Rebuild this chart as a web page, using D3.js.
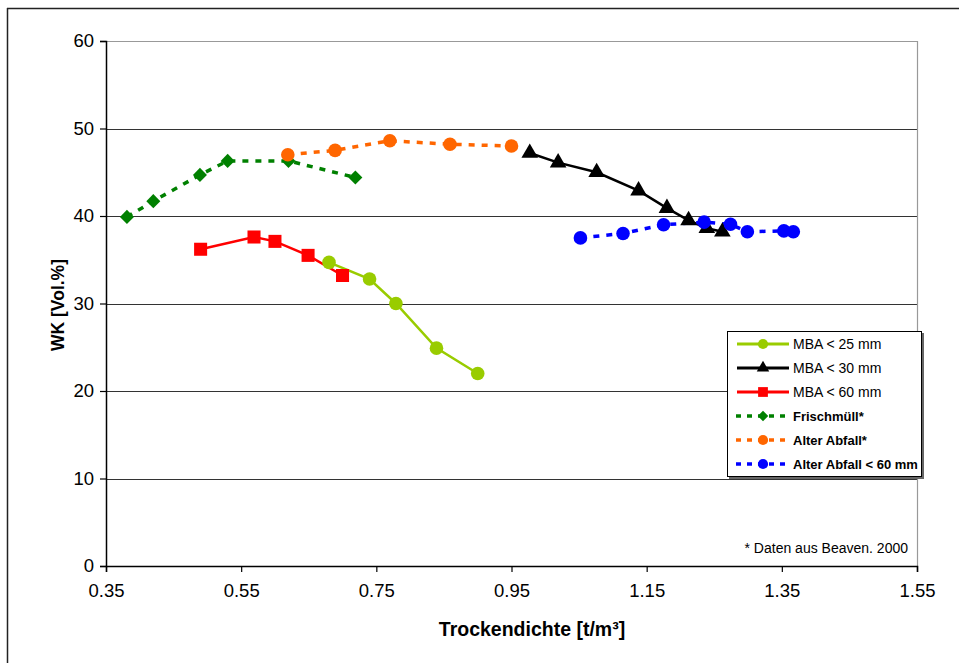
<!DOCTYPE html>
<html><head><meta charset="utf-8">
<script src="https://cdn.jsdelivr.net/npm/d3@7"></script>
<style>body{margin:0;background:#fff;}svg{display:block;font-family:"Liberation Sans",Arial,sans-serif;}</style>
</head><body>
<svg id="chart" width="959" height="663"></svg>
<script>
// ---- data ----
const xTicks = [0.35, 0.55, 0.75, 0.95, 1.15, 1.35, 1.55];
const yTicks = [0, 10, 20, 30, 40, 50, 60];
const seriesNames = ["MBA < 25 mm", "MBA < 30 mm", "MBA < 60 mm", "Frischmüll*", "Alter Abfall*", "Alter Abfall < 60 mm"];
const mba25X = [0.680, 0.740, 0.779, 0.839, 0.900];
const mba25Y = [34.7, 32.8, 30.0, 24.9, 22.0];
const mba30X = [0.977, 1.019, 1.076, 1.138, 1.180, 1.212, 1.239, 1.262];
const mba30Y = [47.2, 46.1, 45.0, 42.9, 40.9, 39.5, 38.6, 38.2];
const mba60X = [0.490, 0.569, 0.600, 0.649, 0.700];
const mba60Y = [36.2, 37.6, 37.1, 35.5, 33.2];
const frischX = [0.381, 0.420, 0.489, 0.530, 0.620, 0.719];
const frischY = [39.9, 41.7, 44.7, 46.3, 46.3, 44.4];
const altX = [0.619, 0.689, 0.770, 0.859, 0.950];
const altY = [47.0, 47.5, 48.6, 48.2, 48.0];
const alt60X = [1.052, 1.115, 1.175, 1.235, 1.274, 1.299, 1.353, 1.367];
const alt60Y = [37.5, 38.0, 39.0, 39.3, 39.05, 38.2, 38.3, 38.2];
const footnote = "* Daten aus Beaven. 2000";
const xTitle = "Trockendichte [t/m³]";
const yTitle = "WK [Vol.%]";

const series = [
  {name: seriesNames[0], xs: mba25X, ys: mba25Y, color: "#99cc00", dash: null, marker: "circle", bold: false},
  {name: seriesNames[1], xs: mba30X, ys: mba30Y, color: "#000000", dash: null, marker: "triangle", bold: false},
  {name: seriesNames[2], xs: mba60X, ys: mba60Y, color: "#ff0000", dash: null, marker: "square", bold: false},
  {name: seriesNames[3], xs: frischX, ys: frischY, color: "#008000", dash: "6,7", marker: "diamond", bold: true},
  {name: seriesNames[4], xs: altX, ys: altY, color: "#ff6600", dash: "6,7", marker: "circle", bold: true},
  {name: seriesNames[5], xs: alt60X, ys: alt60Y, color: "#0000ff", dash: "6,7", marker: "circle", bold: true}
];

const svg = d3.select("#chart");
const L = 106, R = 917, T = 41, B = 566;
const x = d3.scaleLinear().domain([0.35, 1.55]).range([L, R]);
const y = d3.scaleLinear().domain([0, 60]).range([B, T]);

// outer frame
svg.append("line").attr("x1", 7).attr("x2", 959).attr("y1", 8.5).attr("y2", 8.5).attr("stroke", "#222").attr("stroke-width", 1.5);
svg.append("line").attr("x1", 7.5).attr("x2", 7.5).attr("y1", 8).attr("y2", 663).attr("stroke", "#222").attr("stroke-width", 1.5);

// gridlines
svg.append("g").selectAll("line").data(yTicks.filter(d => d > 0 && d < 60)).join("line")
  .attr("x1", L).attr("x2", R).attr("y1", d => Math.round(y(d)) + 0.5).attr("y2", d => Math.round(y(d)) + 0.5)
  .attr("stroke", "#333").attr("stroke-width", 1.2);
// plot border top / right
svg.append("line").attr("x1", L).attr("x2", R).attr("y1", T + 0.5).attr("y2", T + 0.5).attr("stroke", "#999").attr("stroke-width", 1.2);
svg.append("line").attr("x1", R + 0.5).attr("x2", R + 0.5).attr("y1", T).attr("y2", B).attr("stroke", "#999").attr("stroke-width", 1.2);

// axes
const xAxis = svg.append("g").attr("transform", `translate(0,${B})`)
  .call(d3.axisBottom(x).tickValues(xTicks).tickFormat(d3.format(".2f")).tickSize(6).tickPadding(12));
const yAxis = svg.append("g").attr("transform", `translate(${L},0)`)
  .call(d3.axisLeft(y).tickValues(yTicks).tickFormat(d3.format("d")).tickSize(6).tickPadding(6));
[xAxis, yAxis].forEach(g => {
  g.select(".domain").attr("stroke", "#000").attr("stroke-width", 1.5);
  g.selectAll(".tick line").attr("stroke", "#000").attr("stroke-width", 1.2);
  g.selectAll(".tick text").attr("fill", "#000").style("font-size", "18.5px").style("font-family", "'Liberation Sans', Arial, sans-serif");
});

// axis titles
svg.append("text").attr("x", 532).attr("y", 636).attr("text-anchor", "middle")
  .style("font-size", "19.5px").style("font-weight", "bold").text(xTitle);
svg.append("text").attr("transform", "translate(64,305) rotate(-90)").attr("text-anchor", "middle")
  .style("font-size", "17.5px").style("font-weight", "bold").text(yTitle);

// markers
function drawMarker(sel, type, color) {
  if (type === "circle") return sel.append("circle").attr("r", 6.8).attr("fill", color);
  let sym;
  if (type === "triangle") sym = d3.symbol().type(d3.symbolTriangle).size(120);
  else if (type === "square") sym = d3.symbol().type(d3.symbolSquare).size(170);
  else sym = d3.symbol().type(d3.symbolDiamond2).size(125);
  return sel.append("path").attr("d", sym()).attr("fill", color);
}

const line = d3.line().x(d => x(d[0])).y(d => y(d[1]));
const gLines = svg.append("g");
const gMarks = svg.append("g");
series.forEach(s => {
  const pts = s.xs.map((v, i) => [v, s.ys[i]]);
  const p = gLines.append("path").datum(pts).attr("d", line).attr("fill", "none")
    .attr("stroke", s.color).attr("stroke-width", s.dash ? 3.5 : 2.5);
  if (s.dash) p.attr("stroke-dasharray", s.dash);
});
series.forEach(s => {
  s.xs.forEach((v, i) => {
    const g = gMarks.append("g").attr("transform", `translate(${x(v)},${y(s.ys[i])})`);
    drawMarker(g, s.marker, s.color);
  });
});

// legend
const lg = svg.append("g");
lg.append("rect").attr("x", 729).attr("y", 333).attr("width", 195).attr("height", 146).attr("fill", "#666");
lg.append("rect").attr("x", 727.5).attr("y", 331.5).attr("width", 194).attr("height", 145).attr("fill", "#fff").attr("stroke", "#000").attr("stroke-width", 1);
const legY = [344, 368, 392, 416, 440, 464];
series.forEach((s, i) => {
  const yy = legY[i];
  const l = lg.append("line").attr("x1", 737).attr("x2", 789).attr("y1", yy).attr("y2", yy)
    .attr("stroke", s.color).attr("stroke-width", s.dash ? 3.5 : 3);
  if (s.dash) l.attr("stroke-dasharray", "5,6").attr("x1", 736);
  const g = lg.append("g").attr("transform", `translate(763,${yy}) scale(0.75)`);
  drawMarker(g, s.marker, s.color);
  lg.append("text").attr("x", 793).attr("y", yy + 5).style("font-size", s.bold ? "13px" : "14px")
    .style("font-weight", s.bold ? "bold" : "normal").attr("fill", "#000").text(s.name);
});

// footnote
svg.append("text").attr("x", 908).attr("y", 553).attr("text-anchor", "end")
  .style("font-size", "14px").attr("fill", "#000").text(footnote);
</script>
</body></html>
